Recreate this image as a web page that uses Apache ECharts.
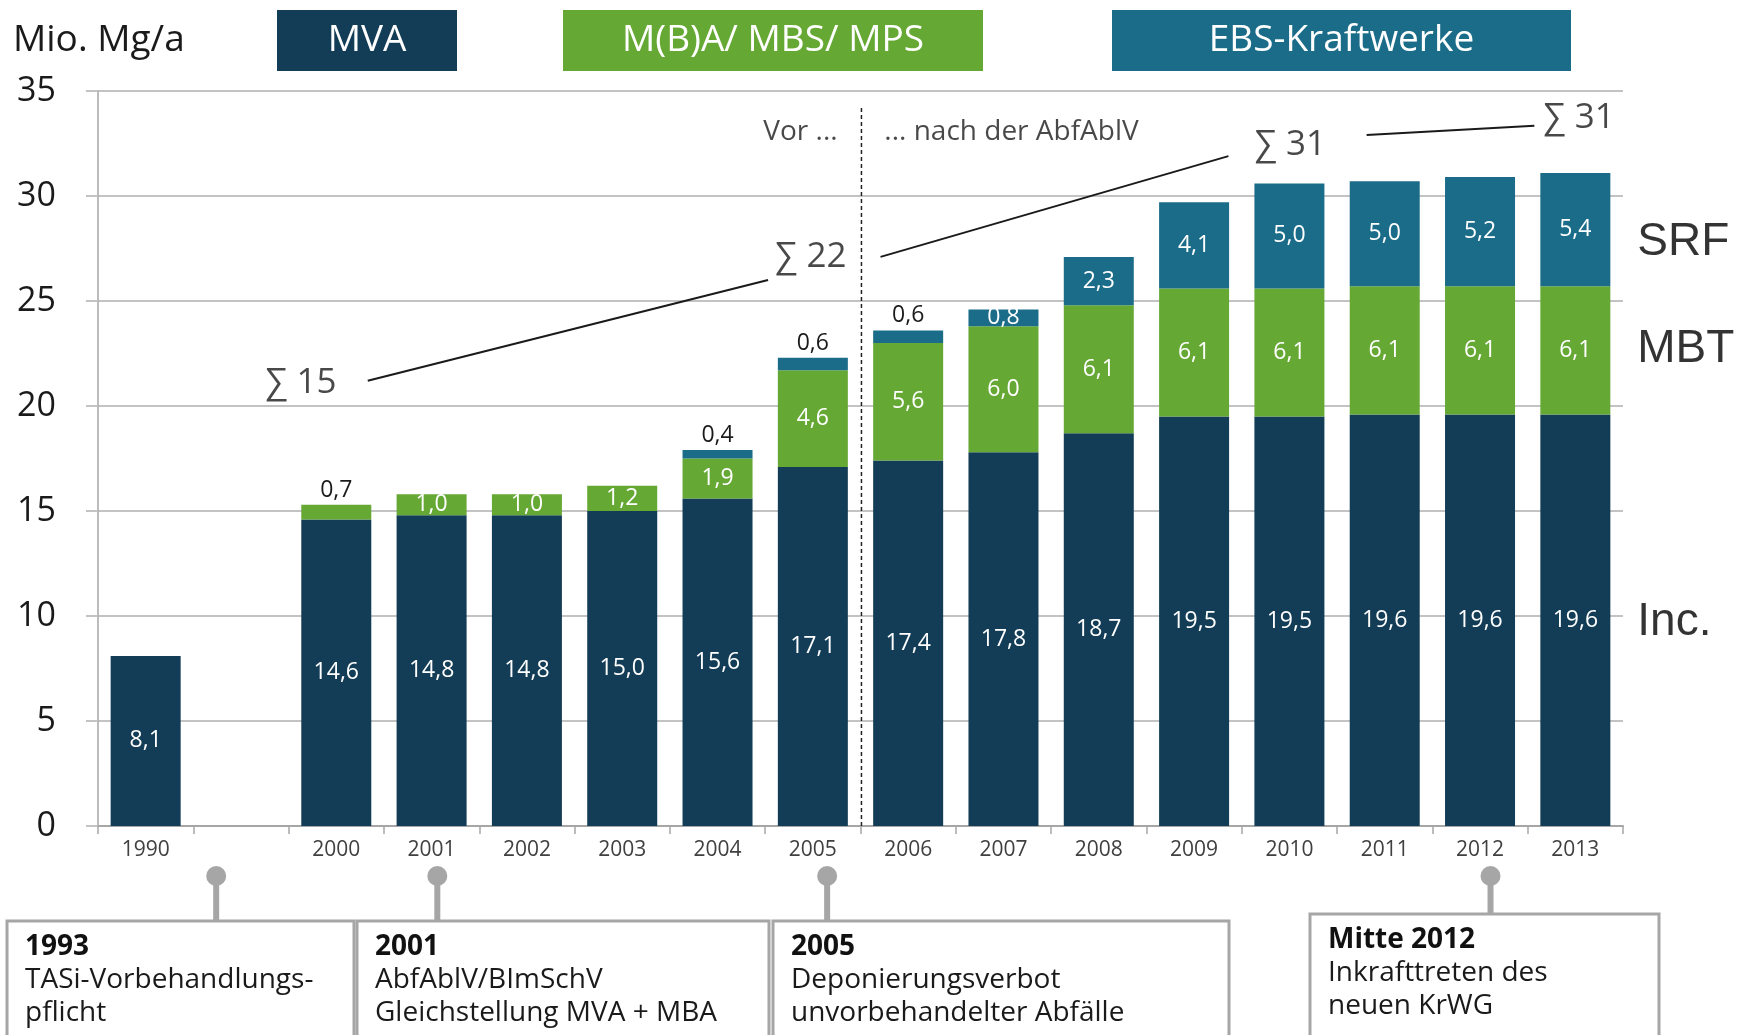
<!DOCTYPE html>
<html>
<head>
    <meta charset="utf-8">
    <script src="https://cdn.jsdelivr.net/npm/echarts@6/dist/echarts.min.js"></script>
    <title>Abfallbehandlung Deutschland</title>
</head>
<body style="margin: 0">
<div id="container" style="width: 1747px; height: 1035px"></div>
<script type="text/javascript">

    let years = ['1990', '', '2000', '2001', '2002', '2003', '2004', '2005',
        '2006', '2007', '2008', '2009', '2010', '2011', '2012', '2013']
    let incineration = [8.1, null, 14.6, 14.8, 14.8, 15.0, 15.6, 17.1, 17.4, 17.8, 18.7, 19.5, 19.5, 19.6, 19.6, 19.6]
    let mbt = [null, null, 0.7, 1.0, 1.0, 1.2, 1.9, 4.6, 5.6, 6.0, 6.1, 6.1, 6.1, 6.1, 6.1, 6.1]
    let srf = [null, null, null, null, null, null, 0.4, 0.6, 0.6, 0.8, 2.3, 4.1, 5.0, 5.0, 5.2, 5.4]
    let yTicks = [0, 5, 10, 15, 20, 25, 30, 35]

    // small segments whose value sits above the bar
    let mbtOnTop = [2]
    let srfOnTop = [6, 7, 8]

    // annotations in (category position, value) space
    let sumLines = [
        [[2.33, 21.2], [6.53, 26.0]],
        [[7.71, 27.1], [11.36, 31.9]],
        [[12.81, 32.9], [14.57, 33.35]]
    ]
    let sumTexts = [[1.63, 21.1, '∑ 15'], [6.98, 27.1, '∑ 22'], [12.01, 32.45, '∑ 31'], [15.04, 33.7, '∑ 31']]
    let divider = [[7.51, 0], [7.51, 34.3]]
    let streamLabels = [[15.65, 27.8, 'SRF'], [15.65, 22.7, 'MBT'], [15.65, 9.7, 'Inc.']]

    let legendItems = ['MVA', 'M(B)A/ MBS/ MPS', 'EBS-Kraftwerke']
    let colors = ['#133d56', '#65a834', '#1b6c88']

    let milestones = [
        {pos: 0.74, title: '1993', text: 'TASi-Vorbehandlungs-\npflicht'},
        {pos: 3.06, title: '2001', text: 'AbfAblV/BImSchV\nGleichstellung MVA + MBA'},
        {pos: 7.15, title: '2005', text: 'Deponierungsverbot\nunvorbehandelter Abfälle'},
        {pos: 14.11, title: 'Mitte 2012', text: 'Inkrafttreten des\nneuen KrWG'}
    ]

    const FONT = 'Open Sans, DejaVu Sans, sans-serif'

    function fmt(v) {
        return v.toFixed(1).replace('.', ',')
    }

    function barData(values, onTop) {
        return values.map((v, i) => {
            if (v === null) return '-'
            if (onTop.includes(i)) {
                return {value: v, label: {position: 'top', color: '#1a1a1a', distance: 3}}
            }
            return v
        })
    }

    function barSeries(name, values, onTop, color) {
        return {
            name: name,
            type: 'bar',
            stack: 'total',
            barWidth: 70,
            data: barData(values, onTop),
            itemStyle: {color: color},
            label: {
                show: true,
                position: 'inside',
                color: '#ffffff',
                fontFamily: FONT,
                fontSize: 23,
                formatter: p => fmt(p.value)
            }
        }
    }

    let series = [
        barSeries(legendItems[0], incineration, [], colors[0]),
        barSeries(legendItems[1], mbt, mbtOnTop, colors[1]),
        barSeries(legendItems[2], srf, srfOnTop, colors[2])
    ]

    sumLines.forEach(seg => {
        series.push({
            type: 'line', xAxisIndex: 1, data: seg, symbol: 'none', silent: true,
            lineStyle: {color: '#1a1a1a', width: 2}
        })
    })
    series.push({
        type: 'line', xAxisIndex: 1, data: divider, symbol: 'none', silent: true,
        lineStyle: {color: '#222222', width: 1.5, type: [4, 3]}
    })

    let textPoints = []
    sumTexts.forEach(t => textPoints.push({
        value: [t[0], t[1]], name: t[2],
        label: {fontSize: 35, position: 'inside'}
    }))
    textPoints.push({
        value: [7.26, 33.05], name: 'Vor ...',
        label: {fontSize: 28, position: 'left', distance: 0}
    })
    textPoints.push({
        value: [7.75, 33.05], name: '... nach der AbfAblV',
        label: {fontSize: 28, position: 'right', distance: 0}
    })
    streamLabels.forEach(t => textPoints.push({
        value: [t[0], t[1]], name: t[2],
        label: {fontSize: 46, position: 'right', distance: 0, fontFamily: 'Liberation Sans, Arial, sans-serif', color: '#000'}
    }))
    series.push({
        type: 'scatter', xAxisIndex: 1, symbolSize: 0, clip: false, silent: true,
        data: textPoints,
        label: {show: true, color: '#1a1a1a', fontFamily: FONT, formatter: p => p.name}
    })

    let dom = document.getElementById('container')
    let chart = echarts.init(dom)
    chart.setOption({
        animation: false,
        grid: {left: 98, right: 124, top: 91, bottom: 209},
        xAxis: [
            {
                type: 'category',
                data: years,
                axisLine: {lineStyle: {color: '#a6a6a6', width: 2}},
                axisTick: {show: true, length: 8, lineStyle: {color: '#a6a6a6', width: 1.5}},
                axisLabel: {color: '#404040', fontFamily: FONT, fontSize: 21, margin: 14}
            },
            {type: 'value', min: -0.5, max: 15.5, show: false}
        ],
        yAxis: {
            type: 'value',
            min: yTicks[0],
            max: yTicks[yTicks.length - 1],
            interval: 5,
            axisLine: {show: true, onZero: false, lineStyle: {color: '#a6a6a6', width: 1.5}},
            axisTick: {show: true, length: 12, lineStyle: {color: '#c3c3c3', width: 2}},
            splitLine: {lineStyle: {color: '#c3c3c3', width: 2}},
            axisLabel: {color: '#1a1a1a', fontFamily: FONT, fontSize: 34, margin: 42}
        },
        series: series
    })

    // header boxes and timeline below the axis
    let graphic = [{
        type: 'text', x: 13, y: 40,
        style: {text: 'Mio. Mg/a', fontSize: 37, fontFamily: FONT, fill: '#1a1a1a', verticalAlign: 'middle'}
    }]
    let legendBoxes = [[277, 180], [563, 420], [1112, 459]]
    legendBoxes.forEach((b, i) => {
        graphic.push({
            type: 'rect', shape: {x: b[0], y: 10, width: b[1], height: 61},
            style: {fill: colors[i]}
        })
        graphic.push({
            type: 'text', x: b[0] + b[1] / 2, y: 40,
            style: {text: legendItems[i], fontSize: 37, fontFamily: FONT, fill: '#ffffff',
                align: 'center', verticalAlign: 'middle'}
        })
    })

    let boxes = [[7, 921, 347], [357, 921, 412], [773, 921, 456], [1310, 914, 349]]
    milestones.forEach((m, i) => {
        let x = chart.convertToPixel({xAxisIndex: 1}, m.pos)
        let b = boxes[i]
        graphic.push({
            type: 'line', shape: {x1: x, y1: 876, x2: x, y2: b[1]},
            style: {stroke: '#a6a6a6', lineWidth: 6}
        })
        graphic.push({
            type: 'circle', shape: {cx: x, cy: 876, r: 10},
            style: {fill: '#a6a6a6'}
        })
        graphic.push({
            type: 'rect', shape: {x: b[0], y: b[1], width: b[2], height: 140},
            style: {fill: '#ffffff', stroke: '#a6a6a6', lineWidth: 3}
        })
        graphic.push({
            type: 'text', x: b[0] + 18, y: b[1] + 26,
            style: {text: m.title, fontSize: 28, fontWeight: 'bold', fontFamily: FONT,
                fill: '#111111', verticalAlign: 'middle'}
        })
        graphic.push({
            type: 'text', x: b[0] + 18, y: b[1] + 43,
            style: {text: m.text, fontSize: 28, lineHeight: 33, fontFamily: FONT,
                fill: '#1a1a1a', verticalAlign: 'top'}
        })
    })
    chart.setOption({graphic: graphic})

</script>
</body>
</html>
